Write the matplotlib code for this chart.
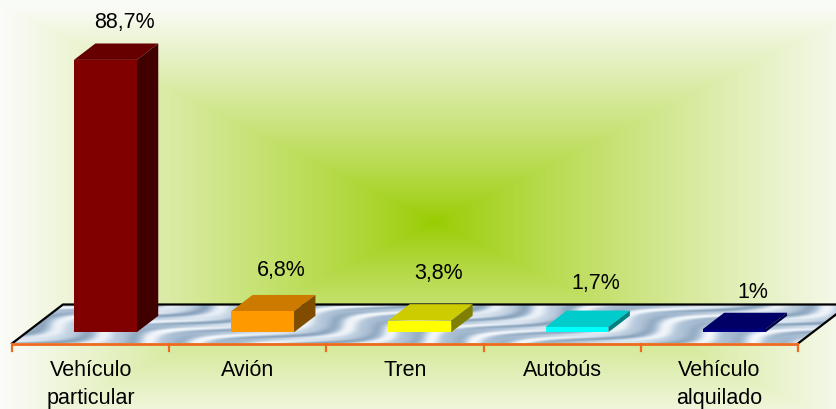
import numpy as np
import matplotlib as mpl
import matplotlib.pyplot as plt
from matplotlib.patches import Polygon
from matplotlib.colors import LinearSegmentedColormap

mpl.rcParams['font.family'] = ['Liberation Sans', 'DejaVu Sans']

categories = ['Vehículo\nparticular', 'Avión', 'Tren', 'Autobús', 'Vehículo\nalquilado']
values = [88.7, 6.8, 3.8, 1.7, 1.0]
value_labels = ['88,7%', '6,8%', '3,8%', '1,7%', '1%']
front_colors = ['#800000', '#FF9900', '#FFFF00', '#00FFFF', '#000080']

W, H = 837, 409
# pixel layout of the 3D plot
X0, PX_CAT = 12.0, 157.2      # left edge of floor front, px per category
Y0, PX_PCT = 343.5, 3.07      # floor front line, px per percent
DEPTH_PX = (51.0, 39.0)       # floor depth vector in px

fig = plt.figure(figsize=(W / 100, H / 100), dpi=100)
ax = fig.add_axes([0, 0, 1, 1])
xlim = (-X0 / PX_CAT, (W - X0) / PX_CAT)
ylim = (-(H - Y0) / PX_PCT, Y0 / PX_PCT)
ax.set_xlim(*xlim)
ax.set_ylim(*ylim)
ax.axis('off')

ddx = DEPTH_PX[0] / PX_CAT
ddy = DEPTH_PX[1] / PX_PCT

# background: rectangular gradient from green centre to pale edges
px, py = np.meshgrid(np.arange(W) + 0.5, np.arange(H) + 0.5)
t = np.maximum(np.abs(px - 435) / 430, np.abs(py - 222) / 215)
t = np.clip(t, 0, 1) ** 0.85
c0 = np.array([153, 204, 0]) / 255
c1 = np.array([250, 251, 247]) / 255
bg = c0 + (c1 - c0) * t[..., None]
ax.imshow(bg, extent=(xlim[0], xlim[1], ylim[0], ylim[1]), aspect='auto', zorder=0)

# floor with a streaky water-like texture
n = len(categories)
floor = [(0, 0), (n, 0), (n + ddx, ddy), (ddx, ddy)]
fx, fy = np.meshgrid(np.arange(0, 860), np.arange(0, 45))
phase = 0.32 * fy - 0.09 * fx + 2.4 * np.sin(0.021 * fx + 0.12 * fy) + 1.2 * np.sin(0.007 * fx)
tex = np.sin(phase) + 0.35 * np.sin(2.3 * phase + 0.05 * fx)
water = LinearSegmentedColormap.from_list(
    'water', ['#8aa3bb', '#a3b9cf', '#bccddf', '#d9e4ef', '#f4f7fb'])
clip = Polygon(floor, closed=True, transform=ax.transData, facecolor='none', edgecolor='none')
ax.add_patch(clip)
im = ax.imshow(tex, cmap=water, origin='lower', aspect='auto', zorder=1,
               extent=(0, 860 / PX_CAT, 0, ddy))
im.set_clip_path(clip)
ax.plot([0, ddx, n + ddx + 0.2], [0, ddy, ddy], color='black', lw=1.6, zorder=2)
ax.plot([n, n + ddx], [0, ddy], color='black', lw=1.6, zorder=2)

# front axis with ticks
ax.plot([0, n], [0, 0], color='#EE6A1E', lw=2.0, zorder=3, solid_capstyle='butt')
for i in range(n + 1):
    ax.plot([i, i], [0, -7 / PX_PCT], color='#EE6A1E', lw=1.6, zorder=3)

# 3D bars
d0, d1 = 0.29, 0.71
label_lift = [16.0, 17.0, 19.0, 18.0, 15.5]
for i, (v, col) in enumerate(zip(values, front_colors)):
    rgb = np.array(mpl.colors.to_rgb(col))
    xl = i + 0.3 + d0 * ddx
    xr = i + 0.7 + d0 * ddx
    yb = d0 * ddy
    yt = v + d0 * ddy
    dx = (d1 - d0) * ddx
    dy = (d1 - d0) * ddy
    ax.add_patch(Polygon([(xl, yt), (xr, yt), (xr + dx, yt + dy), (xl + dx, yt + dy)],
                         facecolor=rgb * 0.8, edgecolor='none', zorder=4))
    ax.add_patch(Polygon([(xr, yb), (xr + dx, yb + dy), (xr + dx, yt + dy), (xr, yt)],
                         facecolor=rgb * 0.5, edgecolor='none', zorder=4))
    ax.add_patch(Polygon([(xl, yb), (xr, yb), (xr, yt), (xl, yt)],
                         facecolor=rgb, edgecolor='none', zorder=5))
    ax.text(i + 0.5 + 0.5 * ddx + 8 / PX_CAT, v + label_lift[i], value_labels[i],
            ha='center', va='center', fontsize=15.5, color='black', zorder=6)
    ax.text(i + 0.5, -16 / PX_PCT, categories[i], ha='center', va='top',
            fontsize=15.5, color='black', linespacing=1.45, zorder=6)

fig.savefig('out.png', dpi=100)
